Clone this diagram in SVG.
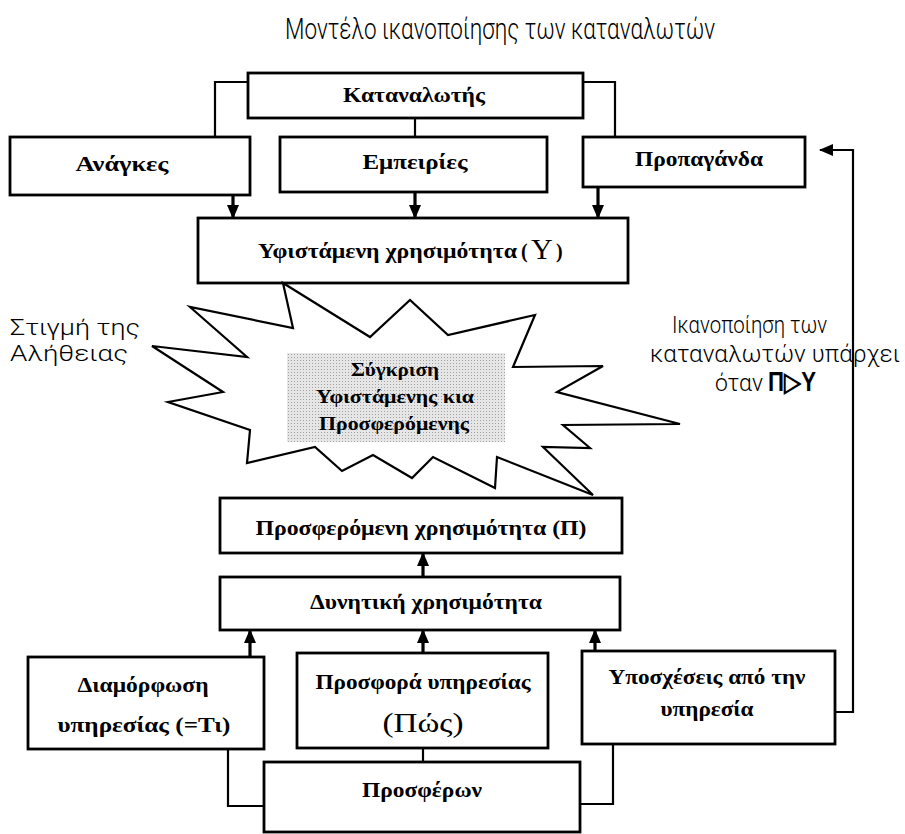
<svg xmlns="http://www.w3.org/2000/svg" width="905" height="834" viewBox="0 0 905 834">
<defs>
<style>
.box{fill:#fff;stroke:#000;stroke-width:2.8}
.ln{fill:none;stroke:#000;stroke-width:2.2}
.ar{fill:none;stroke:#000;stroke-width:3.2}
.t{font-family:"Liberation Serif","Times New Roman",serif;font-weight:bold;font-size:20px;fill:#000;text-anchor:middle}
.s{text-anchor:start}
.lt{font-family:Roboto,"Liberation Sans",sans-serif;font-weight:300;font-size:24px;fill:#000}
.burst{fill:#fff;stroke:#000;stroke-width:2.2;stroke-linejoin:miter}
</style>
<marker id="ah" viewBox="0 0 14 12" refX="13" refY="6" markerWidth="14" markerHeight="12" orient="auto" markerUnits="userSpaceOnUse">
<path d="M0,0 L14,6 L0,12 z" fill="#000"/>
</marker>
<pattern id="dots" width="3" height="3" patternUnits="userSpaceOnUse">
<rect width="3" height="3" fill="#e6e6e6"/>
<rect width="1" height="1" fill="#a0a0a0"/>
</pattern>
</defs>
<rect width="905" height="834" fill="#fff"/>
<text class="lt" x="500" y="39" style="text-anchor:middle;font-size:30px" textLength="430" lengthAdjust="spacingAndGlyphs">Μοντέλο ικανοποίησης των καταναλωτών</text>

<g id="connectors">
<path class="ln" d="M248,82 H215 V137"/>
<path class="ln" d="M583,82 H615 V137"/>
<path class="ln" d="M415,118 V137"/>
<path class="ar" d="M233,195 V218" marker-end="url(#ah)"/>
<path class="ar" d="M415,192 V218" marker-end="url(#ah)"/>
<path class="ar" d="M598,187 V218" marker-end="url(#ah)"/>
<path class="ar" d="M423,577 V553" marker-end="url(#ah)"/>
<path class="ar" d="M250,657 V630" marker-end="url(#ah)"/>
<path class="ar" d="M423,653 V630" marker-end="url(#ah)"/>
<path class="ar" d="M595,651 V630" marker-end="url(#ah)"/>
<path class="ln" d="M423,748 V762"/>
<path class="ln" d="M228,750 V806 H264"/>
<path class="ln" d="M613,744 V804 H580"/>
<path class="ln" d="M835,712 H853 V150 H820" marker-end="url(#ah)"/>
</g>

<g id="n-katanalotis">
<rect class="box" x="248" y="73" width="335" height="45"/>
<text class="t" x="414" y="102" textLength="142" lengthAdjust="spacingAndGlyphs">Καταναλωτής</text>
</g>
<g id="n-anagkes">
<rect class="box" x="10" y="137" width="240" height="58"/>
<text class="t" x="122" y="171" textLength="93" lengthAdjust="spacingAndGlyphs">Ανάγκες</text>
</g>
<g id="n-empeiries">
<rect class="box" x="280" y="137" width="267" height="55"/>
<text class="t" x="415" y="169" textLength="105" lengthAdjust="spacingAndGlyphs">Εμπειρίες</text>
</g>
<g id="n-propaganda">
<rect class="box" x="583" y="137" width="222" height="50"/>
<text class="t" x="699" y="166" textLength="128" lengthAdjust="spacingAndGlyphs">Προπαγάνδα</text>
</g>
<g id="n-yfistamenh">
<rect class="box" x="198" y="218" width="430" height="65"/>
<text class="t s" x="258" y="258" textLength="259" lengthAdjust="spacingAndGlyphs">Υφιστάμενη χρησιμότητα</text>
<text class="t s" x="521" y="258">(</text>
<text class="t s" x="531" y="259" style="font-weight:normal;font-size:30px">Υ</text>
<text class="t s" x="556" y="258">)</text>
</g>

<g id="n-sygkrisi">
<polygon class="burst" points="283,283 370,337 410,300 448,335 535,315 513,367 603,366 557,392 680,424 563,425 590,448 543,447 593,495 497,457 495,488 433,457 412,478 373,455 342,471 315,447 247,463 250,430 168,402 223,392 152,346 247,357 190,307 293,328"/>
<rect x="287" y="353" width="218" height="89" fill="url(#dots)"/>
<text class="t" x="395" y="376" style="font-size:19px" textLength="88" lengthAdjust="spacingAndGlyphs">Σύγκριση</text>
<text class="t" x="395" y="403" style="font-size:19px" textLength="158" lengthAdjust="spacingAndGlyphs">Υφιστάμενης κια</text>
<text class="t" x="394" y="430" style="font-size:19px" textLength="150" lengthAdjust="spacingAndGlyphs">Προσφερόμενης</text>
</g>

<g id="label-stigmi">
<text class="lt" x="10" y="335" style="font-size:22px" textLength="130" lengthAdjust="spacingAndGlyphs">Στιγμή της</text>
<text class="lt" x="10" y="361" style="font-size:22px" textLength="118" lengthAdjust="spacingAndGlyphs">Αλήθειας</text>
</g>
<g id="label-ikanopoiisi">
<text class="lt" x="672" y="333" style="font-size:23px" textLength="155" lengthAdjust="spacingAndGlyphs">Ικανοποίηση των</text>
<text class="lt" x="650" y="362" style="font-size:23px" textLength="250" lengthAdjust="spacingAndGlyphs">καταναλωτών υπάρχει</text>
<text class="lt" x="715" y="391" style="font-size:23px" textLength="48" lengthAdjust="spacingAndGlyphs">όταν</text>
<text class="lt" x="768" y="391" style="font-size:27px;font-weight:bold;font-family:'Liberation Sans',sans-serif" textLength="48" lengthAdjust="spacingAndGlyphs">Π▷Υ</text>
</g>

<g id="n-prosferomenh">
<rect class="box" x="220" y="498" width="402" height="55"/>
<text class="t" x="421" y="535" textLength="331" lengthAdjust="spacingAndGlyphs">Προσφερόμενη χρησιμότητα (Π)</text>
</g>
<g id="n-dynhtikh">
<rect class="box" x="220" y="577" width="400" height="53"/>
<text class="t" x="426" y="609" textLength="232" lengthAdjust="spacingAndGlyphs">Δυνητική χρησιμότητα</text>
</g>
<g id="n-diamorfosi">
<rect class="box" x="28" y="657" width="236" height="92"/>
<text class="t" x="143" y="692" textLength="131" lengthAdjust="spacingAndGlyphs">Διαμόρφωση</text>
<text class="t" x="144" y="732" textLength="173" lengthAdjust="spacingAndGlyphs">υπηρεσίας (=Τι)</text>
</g>
<g id="n-prosfora">
<rect class="box" x="297" y="653" width="251" height="95"/>
<text class="t" x="423" y="689" textLength="215" lengthAdjust="spacingAndGlyphs">Προσφορά υπηρεσίας</text>
<text class="t" x="423" y="732" style="font-weight:normal;font-size:28px" textLength="81" lengthAdjust="spacingAndGlyphs">(Πώς)</text>
</g>
<g id="n-yposxeseis">
<rect class="box" x="582" y="651" width="253" height="93"/>
<text class="t" x="707" y="684" textLength="197" lengthAdjust="spacingAndGlyphs">Υποσχέσεις από την</text>
<text class="t" x="707" y="716" textLength="93" lengthAdjust="spacingAndGlyphs">υπηρεσία</text>
</g>
<g id="n-prosferon">
<rect class="box" x="264" y="762" width="316" height="70"/>
<text class="t" x="422" y="797" style="font-size:22px" textLength="120" lengthAdjust="spacingAndGlyphs">Προσφέρων</text>
</g>
</svg>
